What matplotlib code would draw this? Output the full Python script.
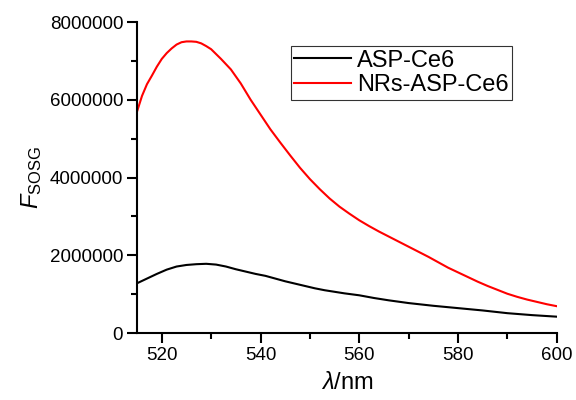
import numpy as np
import matplotlib.pyplot as plt

# wavelength (nm) and SOSG fluorescence (x1e6)
wl_red = [515, 516, 517, 518, 519, 520, 521, 522, 523, 524, 525, 526, 527, 528, 529, 530,
          532, 534, 536, 538, 540, 542, 544, 546, 548, 550, 552, 554, 556, 558, 560,
          562, 564, 566, 568, 570, 572, 574, 576, 578, 580, 582, 584, 586, 588, 590,
          592, 594, 596, 598, 600]
f_nrs = [5.70, 6.10, 6.40, 6.62, 6.85, 7.05, 7.20, 7.32, 7.42, 7.48, 7.50, 7.50, 7.49, 7.45, 7.38, 7.30,
         7.05, 6.78, 6.42, 6.00, 5.62, 5.24, 4.90, 4.57, 4.25, 3.96, 3.70, 3.46, 3.25, 3.07, 2.90,
         2.75, 2.61, 2.48, 2.35, 2.22, 2.09, 1.96, 1.82, 1.68, 1.56, 1.44, 1.32, 1.21, 1.11, 1.01,
         0.93, 0.86, 0.80, 0.74, 0.69]

wl_black = [515, 517, 519, 521, 523, 525, 527, 529, 531, 533, 535, 537, 539, 541, 543, 545,
            547, 549, 551, 553, 555, 557, 560, 563, 566, 570, 575, 580, 585, 590, 595, 600]
f_asp = [1.28, 1.40, 1.52, 1.63, 1.71, 1.75, 1.77, 1.78, 1.76, 1.71, 1.64, 1.58, 1.52, 1.47, 1.40, 1.33,
         1.27, 1.21, 1.15, 1.10, 1.06, 1.02, 0.97, 0.90, 0.84, 0.77, 0.70, 0.64, 0.58, 0.51, 0.46, 0.42]

labels = ['ASP-Ce6', 'NRs-ASP-Ce6']

plt.rcParams['font.family'] = 'Liberation Sans'
plt.rcParams['mathtext.fontset'] = 'custom'
plt.rcParams['mathtext.rm'] = 'Liberation Sans'
plt.rcParams['mathtext.it'] = 'Liberation Sans:italic'

fig = plt.figure(figsize=(5.76, 4.0), dpi=100)
ax = fig.add_axes([0.238, 0.1675, 0.7285, 0.7775])

ax.plot(wl_black, np.array(f_asp) * 1e6, color='black', lw=1.5, label=labels[0])
ax.plot(wl_red, np.array(f_nrs) * 1e6, color='#ff0000', lw=1.5, label=labels[1])

ax.set_xlim(515, 600)
ax.set_ylim(0, 8e6)
ax.set_xticks([520, 540, 560, 580, 600])
ax.set_xticks(np.arange(530, 600, 20), minor=True)
ax.set_yticks(np.arange(0, 8e6 + 1, 2e6))
ax.set_yticks(np.arange(1e6, 8e6, 2e6), minor=True)
ax.set_yticklabels([f'{int(v)}' for v in np.arange(0, 8e6 + 1, 2e6)])

for s in ['top', 'right']:
    ax.spines[s].set_visible(False)
for s in ['left', 'bottom']:
    ax.spines[s].set_linewidth(1.5)
ax.tick_params(which='major', direction='out', length=7, width=1.5, labelsize=13.5, pad=3)
ax.tick_params(which='minor', direction='out', length=4, width=1.5)

ax.set_xlabel(r'$\mathit{\lambda}$/nm', fontsize=17, labelpad=6)
ax.set_ylabel(r'$\mathit{F}_{\mathrm{SOSG}}$', fontsize=17, labelpad=4)

leg = ax.legend(loc='upper left', bbox_to_anchor=(0.505, 0.885), bbox_transform=fig.transFigure,
                fontsize=17, frameon=True, fancybox=False, borderaxespad=0, borderpad=0.15,
                handlelength=2.4, handletextpad=0.25, labelspacing=0.12)
leg.get_frame().set_edgecolor('black')
leg.get_frame().set_linewidth(0.8)

fig.savefig('out.png', dpi=100)
